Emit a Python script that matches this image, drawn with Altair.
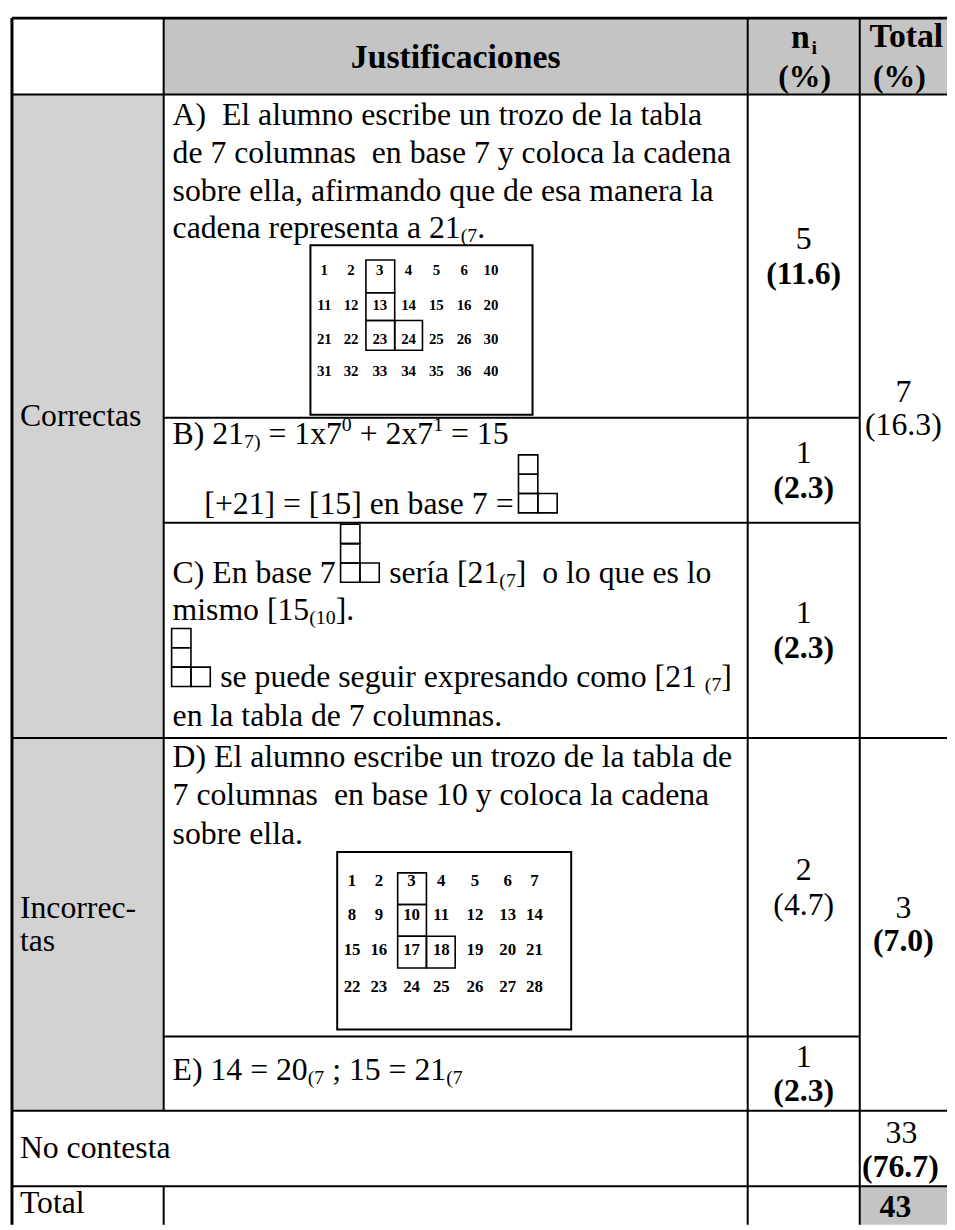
import re
import altair as alt
import pandas as pd

# ---------------- data ----------------
header_just = "Justificaciones"
header_n = ["n", "i", "(%)"]
header_total = ["Total", "(%)"]

group_names = [["Correctas"], ["Incorrec-", "tas"]]
no_answer_name = "No contesta"
total_name = "Total"

# justification texts: lines of runs (text, kind); kind n=normal, sub, sup, shape (the "cadena" drawing)
just_A = [
    [("A)  El alumno escribe un trozo de la tabla", "n")],
    [("de 7 columnas  en base 7 y coloca la cadena", "n")],
    [("sobre ella, afirmando que de esa manera la", "n")],
    [("cadena representa a 21", "n"), ("(7", "sub"), (".", "n")],
]
just_B = [
    [("B) 21", "n"), ("7)", "sub"), (" = 1x7", "n"), ("0", "sup"), (" + 2x7", "n"), ("1", "sup"), (" = 15", "n")],
    [("[+21] = [15] en base 7 =", "n"), ("", "shape")],
]
just_C = [
    [("C) En base 7", "n"), ("", "shape"), (" sería [21", "n"), ("(7", "sub"), ("]  o lo que es lo", "n")],
    [("mismo [15", "n"), ("(10", "sub"), ("].", "n")],
    [("", "shape"), (" se puede seguir expresando como [21 ", "n"), ("(7", "sub"), ("]", "n")],
    [("en la tabla de 7 columnas.", "n")],
]
just_D = [
    [("D) El alumno escribe un trozo de la tabla de", "n")],
    [("7 columnas  en base 10 y coloca la cadena", "n")],
    [("sobre ella.", "n")],
]
just_E = [
    [("E) 14 = 20", "n"), ("(7", "sub"), (" ; 15 = 21", "n"), ("(7", "sub")],
]
justifications = [just_A, just_B, just_C, just_D, just_E]

n_counts = [5, 1, 1, 2, 1]
n_pcts = [11.6, 2.3, 2.3, 4.7, 2.3]
n_pct_bold = [True, True, True, False, True]
group_counts = [7, 3]
group_pcts = [16.3, 7.0]
group_pct_bold = [False, True]
no_answer_count = 33
no_answer_pct = 76.7
grand_total = 43

table_A = [[1, 2, 3, 4, 5, 6, 10],
           [11, 12, 13, 14, 15, 16, 20],
           [21, 22, 23, 24, 25, 26, 30],
           [31, 32, 33, 34, 35, 36, 40]]
table_D = [[1, 2, 3, 4, 5, 6, 7],
           [8, 9, 10, 11, 12, 13, 14],
           [15, 16, 17, 18, 19, 20, 21],
           [22, 23, 24, 25, 26, 27, 28]]
chain_cells = [(0, 2), (1, 2), (2, 2), (2, 3)]

# ---------------- layout (pixels of the page) ----------------
FONT = "Liberation Serif"
BODY, SMALL, HEAD = 32, 20, 34
X0, X1, X2, X3, XR = 12, 165, 754, 867, 955
Y_TOP, Y_HEAD = 13, 90
row_edges = [90, 416, 522, 739, 1040, 1115]
group_edges = [90, 739, 1115]
Y_NT, Y_BOT = 1191, 1230
GRAY_HEAD, GRAY_COL = "#c4c4c4", "#d2d2d2"
SQ = 19.5

just_x = [[174] * 4, [174, 206], [174, 174, 168, 174], [174] * 3, [174]]
just_y = [[111, 149, 187, 225], [433, 503], [573, 610, 678, 717], [758, 797, 836], [1074]]

grid_layout = {
    "A": dict(box=(313, 537, 242, 413), size=15,
              cols=[327, 354, 383, 412, 440, 468, 495],
              rows=[267, 302, 337, 369], cedges={2: (369, 398), 3: (398, 426)},
              redges=[257, 290, 318, 348]),
    "D": dict(box=(340, 576, 854, 1033), size=17,
              cols=[355, 382, 415, 445, 479, 512, 539],
              rows=[883, 918, 953, 990], cedges={2: (401, 430), 3: (430, 459)},
              redges=[875, 907, 939, 971]),
}

# Times/Liberation Serif advance widths (1/1000 em)
TW = {' ': 250, '(': 333, ')': 333, '+': 564, ',': 250, '-': 333, '.': 250, ';': 278,
      '=': 564, '[': 333, ']': 333, 'A': 722, 'B': 667, 'C': 667, 'D': 722, 'E': 611,
      'a': 444, 'b': 500, 'c': 444, 'd': 500, 'e': 444, 'f': 333, 'g': 500, 'h': 500,
      'i': 278, 'l': 278, 'm': 778, 'n': 500, 'o': 500, 'p': 500, 'q': 500, 'r': 333,
      's': 389, 't': 278, 'u': 500, 'v': 500, 'x': 500, 'y': 500, 'z': 444, 'í': 278}


def tw(s, size):
    return sum(TW.get(c, 500) for c in s) * size / 1000.0


texts, rects, boxes, rules = [], [], [], []


def add_text(x, y, t, size=BODY, weight="normal", align="left"):
    texts.append(dict(x=x, y=y, label=str(t), fsize=size, fweight=weight, halign=align))


def add_shape(left, bottom):
    for (c, r) in [(0, 2), (0, 1), (0, 0), (1, 0)]:
        boxes.append(dict(x=left + c * SQ, x2=left + (c + 1) * SQ,
                          y=bottom - (r + 1) * SQ, y2=bottom - r * SQ, w=1.6))


def layout_line(runs, x0, yc):
    x = x0
    for txt, kind in runs:
        if kind == "shape":
            add_shape(x + 5, yc + 9)
            x += 5 + 2 * SQ + 2
            continue
        size = BODY if kind == "n" else SMALL
        dy = 0 if kind == "n" else (8 if kind == "sub" else -10)
        for tok in re.split(r"( )", txt):
            if tok == "":
                continue
            if tok != " ":
                add_text(x, yc + dy, tok, size)
            x += tw(tok, size)


# gray fills
rects.append(dict(x=X1, x2=XR, y=Y_TOP, y2=Y_HEAD, fill=GRAY_HEAD))
rects.append(dict(x=X0, x2=X1, y=Y_HEAD, y2=row_edges[-1], fill=GRAY_COL))
rects.append(dict(x=X3, x2=XR, y=Y_NT, y2=Y_BOT, fill=GRAY_HEAD))

# grid lines
for y, xa, xb, w in [(Y_TOP, X0, XR, 3), (Y_HEAD, X0, XR, 2), (row_edges[1], X1, X3, 2),
                     (row_edges[2], X1, X3, 2), (row_edges[3], X0, XR, 2), (row_edges[4], X1, X3, 2),
                     (row_edges[5], X0, XR, 2), (Y_NT, X0, XR, 2)]:
    rules.append(dict(x=xa, x2=xb, y=y, y2=y, w=w))
for x, ya, yb, w in [(X0, Y_TOP, Y_BOT, 3), (X1, Y_TOP, row_edges[5], 2), (X1, Y_NT, Y_BOT, 2),
                     (X2, Y_TOP, Y_BOT, 2), (X3, Y_TOP, Y_BOT, 2)]:
    rules.append(dict(x=x, x2=x, y=ya, y2=yb, w=w))

# header
add_text((X1 + X2) / 2, 53, header_just, HEAD, "bold", "center")
add_text(807, 33, header_n[0], HEAD, "bold", "center")
add_text(821, 43, header_n[1], SMALL, "bold", "center")
add_text((X2 + X3) / 2 + 1, 72, header_n[2], 32, "bold", "center")
add_text(914, 32, header_total[0], HEAD, "bold", "center")
add_text(907, 72, header_total[1], 32, "bold", "center")

# justifications
for lines, xs_, ys_ in zip(justifications, just_x, just_y):
    for runs, x0, yc in zip(lines, xs_, ys_):
        layout_line(runs, x0, yc)

# n_i column
ncx = (X2 + X3) / 2
for i, (cnt, pct, bold) in enumerate(zip(n_counts, n_pcts, n_pct_bold)):
    mid = (row_edges[i] + row_edges[i + 1]) / 2
    add_text(ncx, mid - 17, cnt, BODY, "normal", "center")
    add_text(ncx, mid + 18, f"({pct:.1f})", BODY, "bold" if bold else "normal", "center")

# groups and totals
tcx = (X3 + XR) / 2
group_shift = [-8, 0]
for i, (names, cnt, pct, bold) in enumerate(zip(group_names, group_counts, group_pcts, group_pct_bold)):
    mid = (group_edges[i] + group_edges[i + 1]) / 2
    for k, nm in enumerate(names):
        add_text(20, mid - 16.5 * (len(names) - 1) + 33 * k, nm)
    add_text(tcx, mid + group_shift[i] - 16, cnt, BODY, "normal", "center")
    add_text(tcx, mid + group_shift[i] + 17, f"({pct:.1f})", BODY, "bold" if bold else "normal", "center")

mid = (row_edges[5] + Y_NT) / 2
add_text(20, mid, no_answer_name)
add_text(tcx - 2, mid - 16, no_answer_count, BODY, "normal", "center")
add_text(tcx - 3, mid + 19, f"({no_answer_pct:.1f})", BODY, "bold", "center")
mid = (Y_NT + Y_BOT) / 2
add_text(20, mid - 2, total_name)
add_text(tcx - 8, mid + 2, grand_total, BODY, "bold", "center")

# small number tables with the "cadena"
for key, tbl in [("A", table_A), ("D", table_D)]:
    g = grid_layout[key]
    bx0, bx1, by0, by1 = g["box"]
    boxes.append(dict(x=bx0, x2=bx1, y=by0, y2=by1, w=2))
    for r, row in enumerate(tbl):
        for c, v in enumerate(row):
            add_text(g["cols"][c], g["rows"][r], v, g["size"], "bold", "center")
    for (r, c) in chain_cells:
        xa, xb = g["cedges"][c]
        boxes.append(dict(x=xa, x2=xb, y=g["redges"][r], y2=g["redges"][r + 1], w=1.6))

# ---------------- chart ----------------
xs = alt.Scale(domain=[8, 955], nice=False, zero=False)
ys = alt.Scale(domain=[8, 1230], nice=False, zero=False, reverse=True)
X = alt.X("x:Q", scale=xs, axis=None)
Y = alt.Y("y:Q", scale=ys, axis=None)

rect_df = pd.DataFrame(rects)
box_df = pd.DataFrame(boxes)
rule_df = pd.DataFrame(rules)
text_df = pd.DataFrame(texts)

layers = [
    alt.Chart(rect_df).mark_rect().encode(x=X, x2="x2:Q", y=Y, y2="y2:Q",
                                          color=alt.Color("fill:N", scale=None)),
    alt.Chart(rule_df).mark_rule(color="black").encode(
        x=X, x2="x2:Q", y=Y, y2="y2:Q", strokeWidth=alt.StrokeWidth("w:Q", scale=None)),
    alt.Chart(box_df).mark_rect(fillOpacity=0, stroke="black").encode(
        x=X, x2="x2:Q", y=Y, y2="y2:Q", strokeWidth=alt.StrokeWidth("w:Q", scale=None)),
]
for weight in ["normal", "bold"]:
    for align in ["left", "center"]:
        sub = text_df[(text_df["fweight"] == weight) & (text_df["halign"] == align)]
        if len(sub) == 0:
            continue
        layers.append(alt.Chart(sub.reset_index(drop=True)).mark_text(
            font=FONT, fontWeight=weight, align=align, baseline="middle", color="black"
        ).encode(x=X, y=Y, text="label:N", size=alt.Size("fsize:Q", scale=None)))

chart = alt.layer(*layers).properties(
    width=947, height=1222, padding=0, autosize=alt.AutoSizeParams(type="none"),
    background="white",
).configure_view(strokeWidth=0)

chart.save("out.html", embed_options={"renderer": "svg", "actions": False})
